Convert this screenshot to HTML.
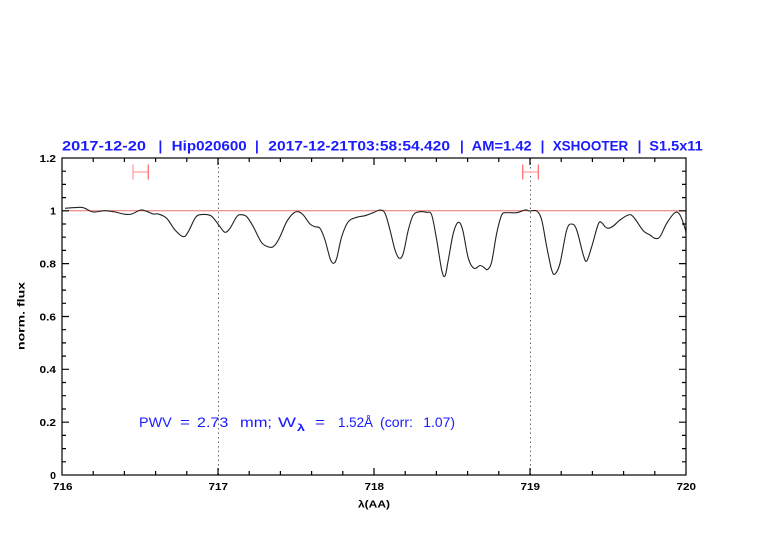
<!DOCTYPE html>
<html><head><meta charset="utf-8"><style>
html,body{margin:0;padding:0;background:#fff;}
svg{display:block;}
text{font-family:"Liberation Sans",sans-serif;}
</style></head><body>
<svg id="svg" width="782" height="542" viewBox="0 0 782 542" xmlns="http://www.w3.org/2000/svg">
<rect width="782" height="542" fill="#fff"/>
<!-- title -->
<g font-size="13.5" font-weight="bold" fill="#1a1aff">
<text x="62" y="150.5" textLength="84" lengthAdjust="spacingAndGlyphs">2017-12-20</text>
<text x="158.5" y="150.5">|</text>
<text x="171.7" y="150.5" textLength="75" lengthAdjust="spacingAndGlyphs">Hip020600</text>
<text x="255" y="150.5">|</text>
<text x="268.3" y="150.5" textLength="181.7" lengthAdjust="spacingAndGlyphs">2017-12-21T03:58:54.420</text>
<text x="460" y="150.5">|</text>
<text x="471.7" y="150.5" textLength="60" lengthAdjust="spacingAndGlyphs">AM=1.42</text>
<text x="540.6" y="150.5">|</text>
<text x="552.7" y="150.5" textLength="75.6" lengthAdjust="spacingAndGlyphs">XSHOOTER</text>
<text x="637.6" y="150.5">|</text>
<text x="649.3" y="150.5" textLength="53.4" lengthAdjust="spacingAndGlyphs">S1.5x11</text>
</g>

<!-- y=1 line -->
<line x1="62" y1="210.8" x2="686" y2="210.8" stroke="#e87070" stroke-width="1"/>

<!-- dotted verticals -->
<line x1="218.5" y1="158" x2="218.5" y2="475" stroke="#666" stroke-width="1" stroke-dasharray="1.5,3"/>
<line x1="530.5" y1="158" x2="530.5" y2="475" stroke="#666" stroke-width="1" stroke-dasharray="1.5,3"/>

<!-- error bars -->
<line x1="133" y1="172" x2="148" y2="172" stroke="#ffb0b0" stroke-width="1.5"/>
<line x1="133" y1="164.5" x2="133" y2="179.5" stroke="#ffa0a0" stroke-width="1.3"/>
<line x1="148.3" y1="164.5" x2="148.3" y2="179.5" stroke="#ff7070" stroke-width="1.3"/>
<line x1="523" y1="172" x2="538" y2="172" stroke="#ffb0b0" stroke-width="1.5"/>
<line x1="522.7" y1="164.5" x2="522.7" y2="179.5" stroke="#ff7070" stroke-width="1.3"/>
<line x1="538.3" y1="164.5" x2="538.3" y2="179.5" stroke="#ff7070" stroke-width="1.3"/>

<!-- spectrum -->
<polyline id="spec" fill="none" stroke="#222" stroke-width="1.1" stroke-linejoin="round" points="65,208.3 80,207.3 85,208.3 93.3,212 105,210.7 115,212 125,214.3 131.7,214 140.7,210 146.7,211.3 153.3,214 158.3,214 166.7,218.3 175,230 183.3,236.7 188.3,231.7 195,218.3 200,214.7 210,215.3 215,220 220,226.7 225,232.3 230,228.3 236.7,216.7 241,214.7 246.7,216.7 253.3,226.7 261.7,242.7 270,247.3 275,245 280,236.7 286.7,221.7 293.3,213.3 298.3,211.7 303.3,215 310,224 315,226.7 320,228.3 325,240 330,258.3 333.3,263.3 336.7,258.3 341.7,236.7 348.3,221.7 356.7,217.3 365,215.7 373.3,212.7 380,210 385,213.3 390,230 395,250 399.3,258.3 403.3,253.3 408.3,230 413.3,215 420,211.7 426.7,212.3 431.7,215 436.7,240 441.7,270 445,276 448.3,260 453.3,233.3 458.3,222.3 462.7,230 468.3,258.3 474,268.3 480,265.5 484,267.5 487.5,269.5 491.7,261.7 496.7,233.3 501.7,215 506.7,212.7 516.7,212.7 525,210 530,211 536.7,211 541.7,220 546.7,246.7 551.7,270 555,274 560,263.3 566.7,230 571.7,224 576.7,230 583.3,255 586.7,261 591.7,246.7 598.3,224 601.7,222.7 605,226.7 608.3,228.3 613.3,226 620,220 628.3,215 633.3,216.7 643.3,230.7 650,235 655,238.3 660,236.7 666.7,223.3 675,212.7 680,215 685,228.3 686,233"/>

<!-- frame -->
<rect x="62" y="158" width="624" height="317" fill="none" stroke="#000" stroke-width="1.2"/>

<!-- ticks -->
<path stroke="#000" stroke-width="1.2" fill="none" d="
M93.2 475v-4 M124.4 475v-4 M155.6 475v-4 M186.8 475v-4 M218 475v-7 M249.2 475v-4 M280.4 475v-4 M311.6 475v-4 M342.8 475v-4 M374 475v-7 M405.2 475v-4 M436.4 475v-4 M467.6 475v-4 M498.8 475v-4 M530 475v-7 M561.2 475v-4 M592.4 475v-4 M623.6 475v-4 M654.8 475v-4
M93.2 158v4 M124.4 158v4 M155.6 158v4 M186.8 158v4 M218 158v7 M249.2 158v4 M280.4 158v4 M311.6 158v4 M342.8 158v4 M374 158v7 M405.2 158v4 M436.4 158v4 M467.6 158v4 M498.8 158v4 M530 158v7 M561.2 158v4 M592.4 158v4 M623.6 158v4 M654.8 158v4
M62 461.8h4 M62 448.6h4 M62 435.4h4 M62 422.2h7 M62 409h4 M62 395.7h4 M62 382.5h4 M62 369.3h7 M62 356.1h4 M62 342.9h4 M62 329.7h4 M62 316.5h7 M62 303.3h4 M62 290.1h4 M62 276.9h4 M62 263.6h7 M62 250.4h4 M62 237.2h4 M62 224h4 M62 210.8h7 M62 197.6h4 M62 184.4h4 M62 171.2h4
M686 461.8h-4 M686 448.6h-4 M686 435.4h-4 M686 422.2h-7 M686 409h-4 M686 395.7h-4 M686 382.5h-4 M686 369.3h-7 M686 356.1h-4 M686 342.9h-4 M686 329.7h-4 M686 316.5h-7 M686 303.3h-4 M686 290.1h-4 M686 276.9h-4 M686 263.6h-7 M686 250.4h-4 M686 237.2h-4 M686 224h-4 M686 210.8h-7 M686 197.6h-4 M686 184.4h-4 M686 171.2h-4"/>

<!-- y labels -->
<g font-size="10.5" font-weight="bold" fill="#000" text-anchor="end">
<text x="56" y="479">0</text>
<text x="56" y="426" textLength="16.5" lengthAdjust="spacingAndGlyphs">0.2</text>
<text x="56" y="373" textLength="16.5" lengthAdjust="spacingAndGlyphs">0.4</text>
<text x="56" y="320.3" textLength="16.5" lengthAdjust="spacingAndGlyphs">0.6</text>
<text x="56" y="267.4" textLength="16.5" lengthAdjust="spacingAndGlyphs">0.8</text>
<text x="56" y="214.6">1</text>
<text x="56" y="161.8" textLength="16.5" lengthAdjust="spacingAndGlyphs">1.2</text>
</g>
<!-- x labels -->
<g font-size="10.5" font-weight="bold" fill="#000">
<text x="53" y="490" textLength="19.5" lengthAdjust="spacingAndGlyphs">716</text>
<text x="208.5" y="490" textLength="19.5" lengthAdjust="spacingAndGlyphs">717</text>
<text x="364.5" y="490" textLength="19.5" lengthAdjust="spacingAndGlyphs">718</text>
<text x="520.5" y="490" textLength="19.5" lengthAdjust="spacingAndGlyphs">719</text>
<text x="676.5" y="490" textLength="19.5" lengthAdjust="spacingAndGlyphs">720</text>
<text x="358" y="507.5" textLength="32" lengthAdjust="spacingAndGlyphs">λ(AA)</text>
<text transform="translate(24.5,350) rotate(-90)" x="0" y="0" textLength="68" lengthAdjust="spacingAndGlyphs">norm. flux</text>
</g>

<!-- PWV annotation -->
<g font-size="14" fill="#1a1aff">
<text x="139" y="427" textLength="32.7" lengthAdjust="spacingAndGlyphs">PWV</text>
<text x="180" y="427" textLength="10" lengthAdjust="spacingAndGlyphs">=</text>
<text x="197" y="427" textLength="31.3" lengthAdjust="spacingAndGlyphs">2.73</text>
<text x="240" y="427" textLength="32" lengthAdjust="spacingAndGlyphs">mm;</text>
<text x="278" y="427" textLength="18" lengthAdjust="spacingAndGlyphs">W</text>
<text x="297" y="431" font-size="10" font-weight="bold" textLength="8" lengthAdjust="spacingAndGlyphs">λ</text>
<text x="315" y="427" textLength="10" lengthAdjust="spacingAndGlyphs">=</text>
<text x="338" y="427" textLength="35" lengthAdjust="spacingAndGlyphs">1.52Å</text>
<text x="380" y="427" textLength="33" lengthAdjust="spacingAndGlyphs">(corr:</text>
<text x="423.3" y="427" textLength="31.7" lengthAdjust="spacingAndGlyphs">1.07)</text>
</g>
</svg>
<script>
(function(){
var pl=document.getElementById('spec');
var pts=pl.getAttribute('points').trim().split(/\s+/).map(function(s){return s.split(',').map(Number);});
var d='M'+pts[0][0]+','+pts[0][1];
for(var i=0;i<pts.length-1;i++){
var p0=pts[i-1]||pts[i],p1=pts[i],p2=pts[i+1],p3=pts[i+2]||pts[i+1];
var c1x=p1[0]+(p2[0]-p0[0])/6,c1y=p1[1]+(p2[1]-p0[1])/6;
var c2x=p2[0]-(p3[0]-p1[0])/6,c2y=p2[1]-(p3[1]-p1[1])/6;
d+=' C'+c1x.toFixed(2)+','+c1y.toFixed(2)+' '+c2x.toFixed(2)+','+c2y.toFixed(2)+' '+p2[0]+','+p2[1];
}
var path=document.createElementNS('http://www.w3.org/2000/svg','path');
path.setAttribute('d',d);path.setAttribute('fill','none');path.setAttribute('stroke','#222');path.setAttribute('stroke-width','1.1');
pl.parentNode.replaceChild(path,pl);
})();
</script>
</body></html>
